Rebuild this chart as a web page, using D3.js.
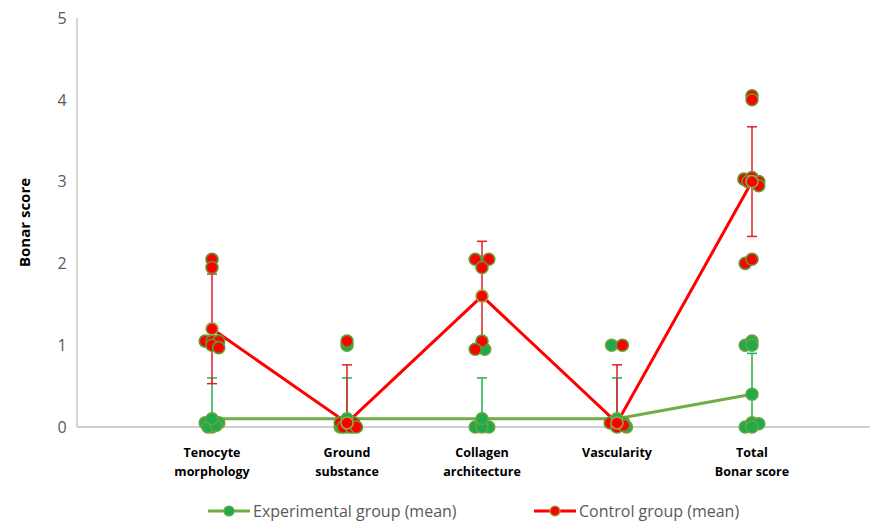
<!DOCTYPE html>
<html>
<head>
<meta charset="utf-8">
<script src="https://cdn.jsdelivr.net/npm/d3@7"></script>
<style>
  html, body { margin: 0; padding: 0; background: #fff; }
  svg { display: block; font-family: "Open Sans", "Liberation Sans", sans-serif; }
</style>
</head>
<body>
<svg id="chart" width="870" height="525"></svg>
<script>
// Bonar score categories (x positions 1..5 on the scatter axis)
const categories = [
  ["Tenocyte", "morphology"],
  ["Ground", "substance"],
  ["Collagen", "architecture"],
  ["Vascularity"],
  ["Total", "Bonar score"]
];
const yTicks = [0, 1, 2, 3, 4, 5];

// Group means and standard deviations
const expMean = [0.1, 0.1, 0.1, 0.1, 0.4];
const expErr  = [0.5, 0.5, 0.5, 0.5, 0.5];
const ctrlMean = [1.2, 0.05, 1.6, 0.05, 3.0];
const ctrlErr  = [0.67, 0.71, 0.67, 0.71, 0.67];

// Individual specimen scores as [x, score]
const expPoints = [
  [0.95, 0.05], [1.05, 0.05], [1.0, 0.0], [0.97, 0.0], [1.03, 0.02],
  [2.0, 1.0], [1.95, 0.0], [2.0, 0.0], [2.05, 0.0],
  [3.02, 0.95], [2.95, 0.0], [3.0, 0.05], [3.05, 0.0], [3.0, 0.0],
  [3.96, 1.0], [4.05, 0.05], [4.0, 0.05], [4.07, 0.0],
  [4.95, 1.0], [5.0, 1.05], [5.0, 1.0], [4.95, 0.0], [5.0, 0.05], [5.05, 0.04], [5.0, 0.0]
];
const ctrlPoints = [
  [1.0, 2.05], [1.0, 1.95], [0.95, 1.05], [1.0, 1.05], [1.05, 1.05], [1.0, 1.0], [1.05, 0.97],
  [2.0, 1.05], [1.95, 0.05], [2.0, 0.05], [2.05, 0.05], [1.97, 0.0], [2.03, 0.0], [2.07, 0.0],
  [2.95, 2.05], [3.05, 2.05], [3.0, 1.95], [3.0, 1.05], [2.95, 0.95],
  [4.04, 1.0], [3.95, 0.05], [4.0, 0.0], [4.05, 0.02],
  [5.0, 4.05], [5.0, 4.0], [4.94, 3.03], [5.0, 3.05], [5.05, 3.0], [5.05, 2.95], [4.97, 3.0],
  [4.95, 2.0], [5.0, 2.05]
];

const legendLabels = ["Experimental group (mean)", "Control group (mean)"];

const svg = d3.select("#chart");
const x = d3.scaleLinear().domain([0, 6]).range([77, 887]);
const y = d3.scaleLinear().domain([0, 5]).range([427, 18]);

const C = {
  axis: "#BFBFBF",
  tick: "#595959",
  expLine: "#70AD47",
  expFill: "#1FAA4B",
  expStroke: "#6AA43E",
  expErr: "#22B04C",
  ctrlLine: "#FF0000",
  ctrlFill: "#FF0000",
  ctrlStroke: "#5E9A36",
  ctrlErr: "#E0202A"
};

// Axes
svg.append("line").attr("x1", x(0)).attr("x2", 870).attr("y1", y(0)).attr("y2", y(0))
  .attr("stroke", C.axis).attr("stroke-width", 1.3);
svg.append("line").attr("x1", x(0)).attr("x2", x(0)).attr("y1", y(0)).attr("y2", y(5))
  .attr("stroke", C.axis).attr("stroke-width", 1.3);

svg.append("g").selectAll("text").data(yTicks).join("text")
  .attr("x", 62).attr("y", d => y(d)).attr("dy", "0.36em")
  .attr("text-anchor", "middle").attr("fill", C.tick).attr("font-size", 16)
  .text(d => d);

svg.append("text")
  .attr("transform", `translate(30,${y(2.5)}) rotate(-90)`)
  .attr("text-anchor", "middle").attr("font-size", 15).attr("font-weight", "bold")
  .attr("fill", "#000").text("Bonar score");

// Category labels
const catG = svg.append("g");
categories.forEach((lines, i) => {
  const t = catG.append("text").attr("x", x(i + 1)).attr("y", 457)
    .attr("text-anchor", "middle").attr("font-size", 12.5).attr("font-weight", "bold").attr("fill", "#000");
  lines.forEach((ln, j) => t.append("tspan").attr("x", x(i + 1)).attr("dy", j === 0 ? 0 : 19).text(ln));
});

const clip = v => Math.max(0, v);

// Error bars
function errorBars(means, errs, color) {
  const g = svg.append("g").attr("stroke", color).attr("stroke-width", 1.5);
  means.forEach((m, i) => {
    const cx = x(i + 1), hi = m + errs[i], lo = clip(m - errs[i]);
    g.append("line").attr("x1", cx).attr("x2", cx).attr("y1", y(hi)).attr("y2", y(lo));
    g.append("line").attr("x1", cx - 5).attr("x2", cx + 5).attr("y1", y(hi)).attr("y2", y(hi));
    if (m - errs[i] >= 0)
      g.append("line").attr("x1", cx - 5).attr("x2", cx + 5).attr("y1", y(lo)).attr("y2", y(lo));
  });
}

const line = d3.line().x((d, i) => x(i + 1)).y(d => y(d));

errorBars(expMean, expErr, C.expErr);
svg.append("path").datum(expMean).attr("d", line).attr("fill", "none")
  .attr("stroke", C.expLine).attr("stroke-width", 3);
errorBars(ctrlMean, ctrlErr, C.ctrlErr);
svg.append("path").datum(ctrlMean).attr("d", line).attr("fill", "none")
  .attr("stroke", C.ctrlLine).attr("stroke-width", 3);

// Individual scores
svg.append("g").selectAll("circle").data(expPoints).join("circle")
  .attr("cx", d => x(d[0])).attr("cy", d => y(d[1])).attr("r", 6)
  .attr("fill", C.expFill).attr("stroke", C.expStroke).attr("stroke-width", 1.6);
svg.append("g").selectAll("circle").data(ctrlPoints).join("circle")
  .attr("cx", d => x(d[0])).attr("cy", d => y(d[1])).attr("r", 6)
  .attr("fill", C.ctrlFill).attr("stroke", C.ctrlStroke).attr("stroke-width", 1.6);

// Mean markers
svg.append("g").selectAll("circle").data(expMean).join("circle")
  .attr("cx", (d, i) => x(i + 1)).attr("cy", d => y(d)).attr("r", 6)
  .attr("fill", C.expFill).attr("stroke", C.expStroke).attr("stroke-width", 1.5);
svg.append("g").selectAll("circle").data(ctrlMean).join("circle")
  .attr("cx", (d, i) => x(i + 1)).attr("cy", d => y(d)).attr("r", 6)
  .attr("fill", C.ctrlFill).attr("stroke", "#8AB04A").attr("stroke-width", 1.5);

// Legend
const legend = [
  { label: legendLabels[0], x0: 208, line: C.expLine, fill: C.expFill, stroke: C.expStroke },
  { label: legendLabels[1], x0: 534, line: C.ctrlLine, fill: C.ctrlFill, stroke: "#8AB04A" }
];
legend.forEach(l => {
  const g = svg.append("g");
  g.append("line").attr("x1", l.x0).attr("x2", l.x0 + 42).attr("y1", 511).attr("y2", 511)
    .attr("stroke", l.line).attr("stroke-width", 3);
  g.append("circle").attr("cx", l.x0 + 21).attr("cy", 511).attr("r", 5)
    .attr("fill", l.fill).attr("stroke", l.stroke).attr("stroke-width", 1.2);
  g.append("text").attr("x", l.x0 + 45).attr("y", 511).attr("dy", "0.36em")
    .attr("font-size", 16).attr("fill", C.tick).text(l.label);
});
</script>
</body>
</html>
